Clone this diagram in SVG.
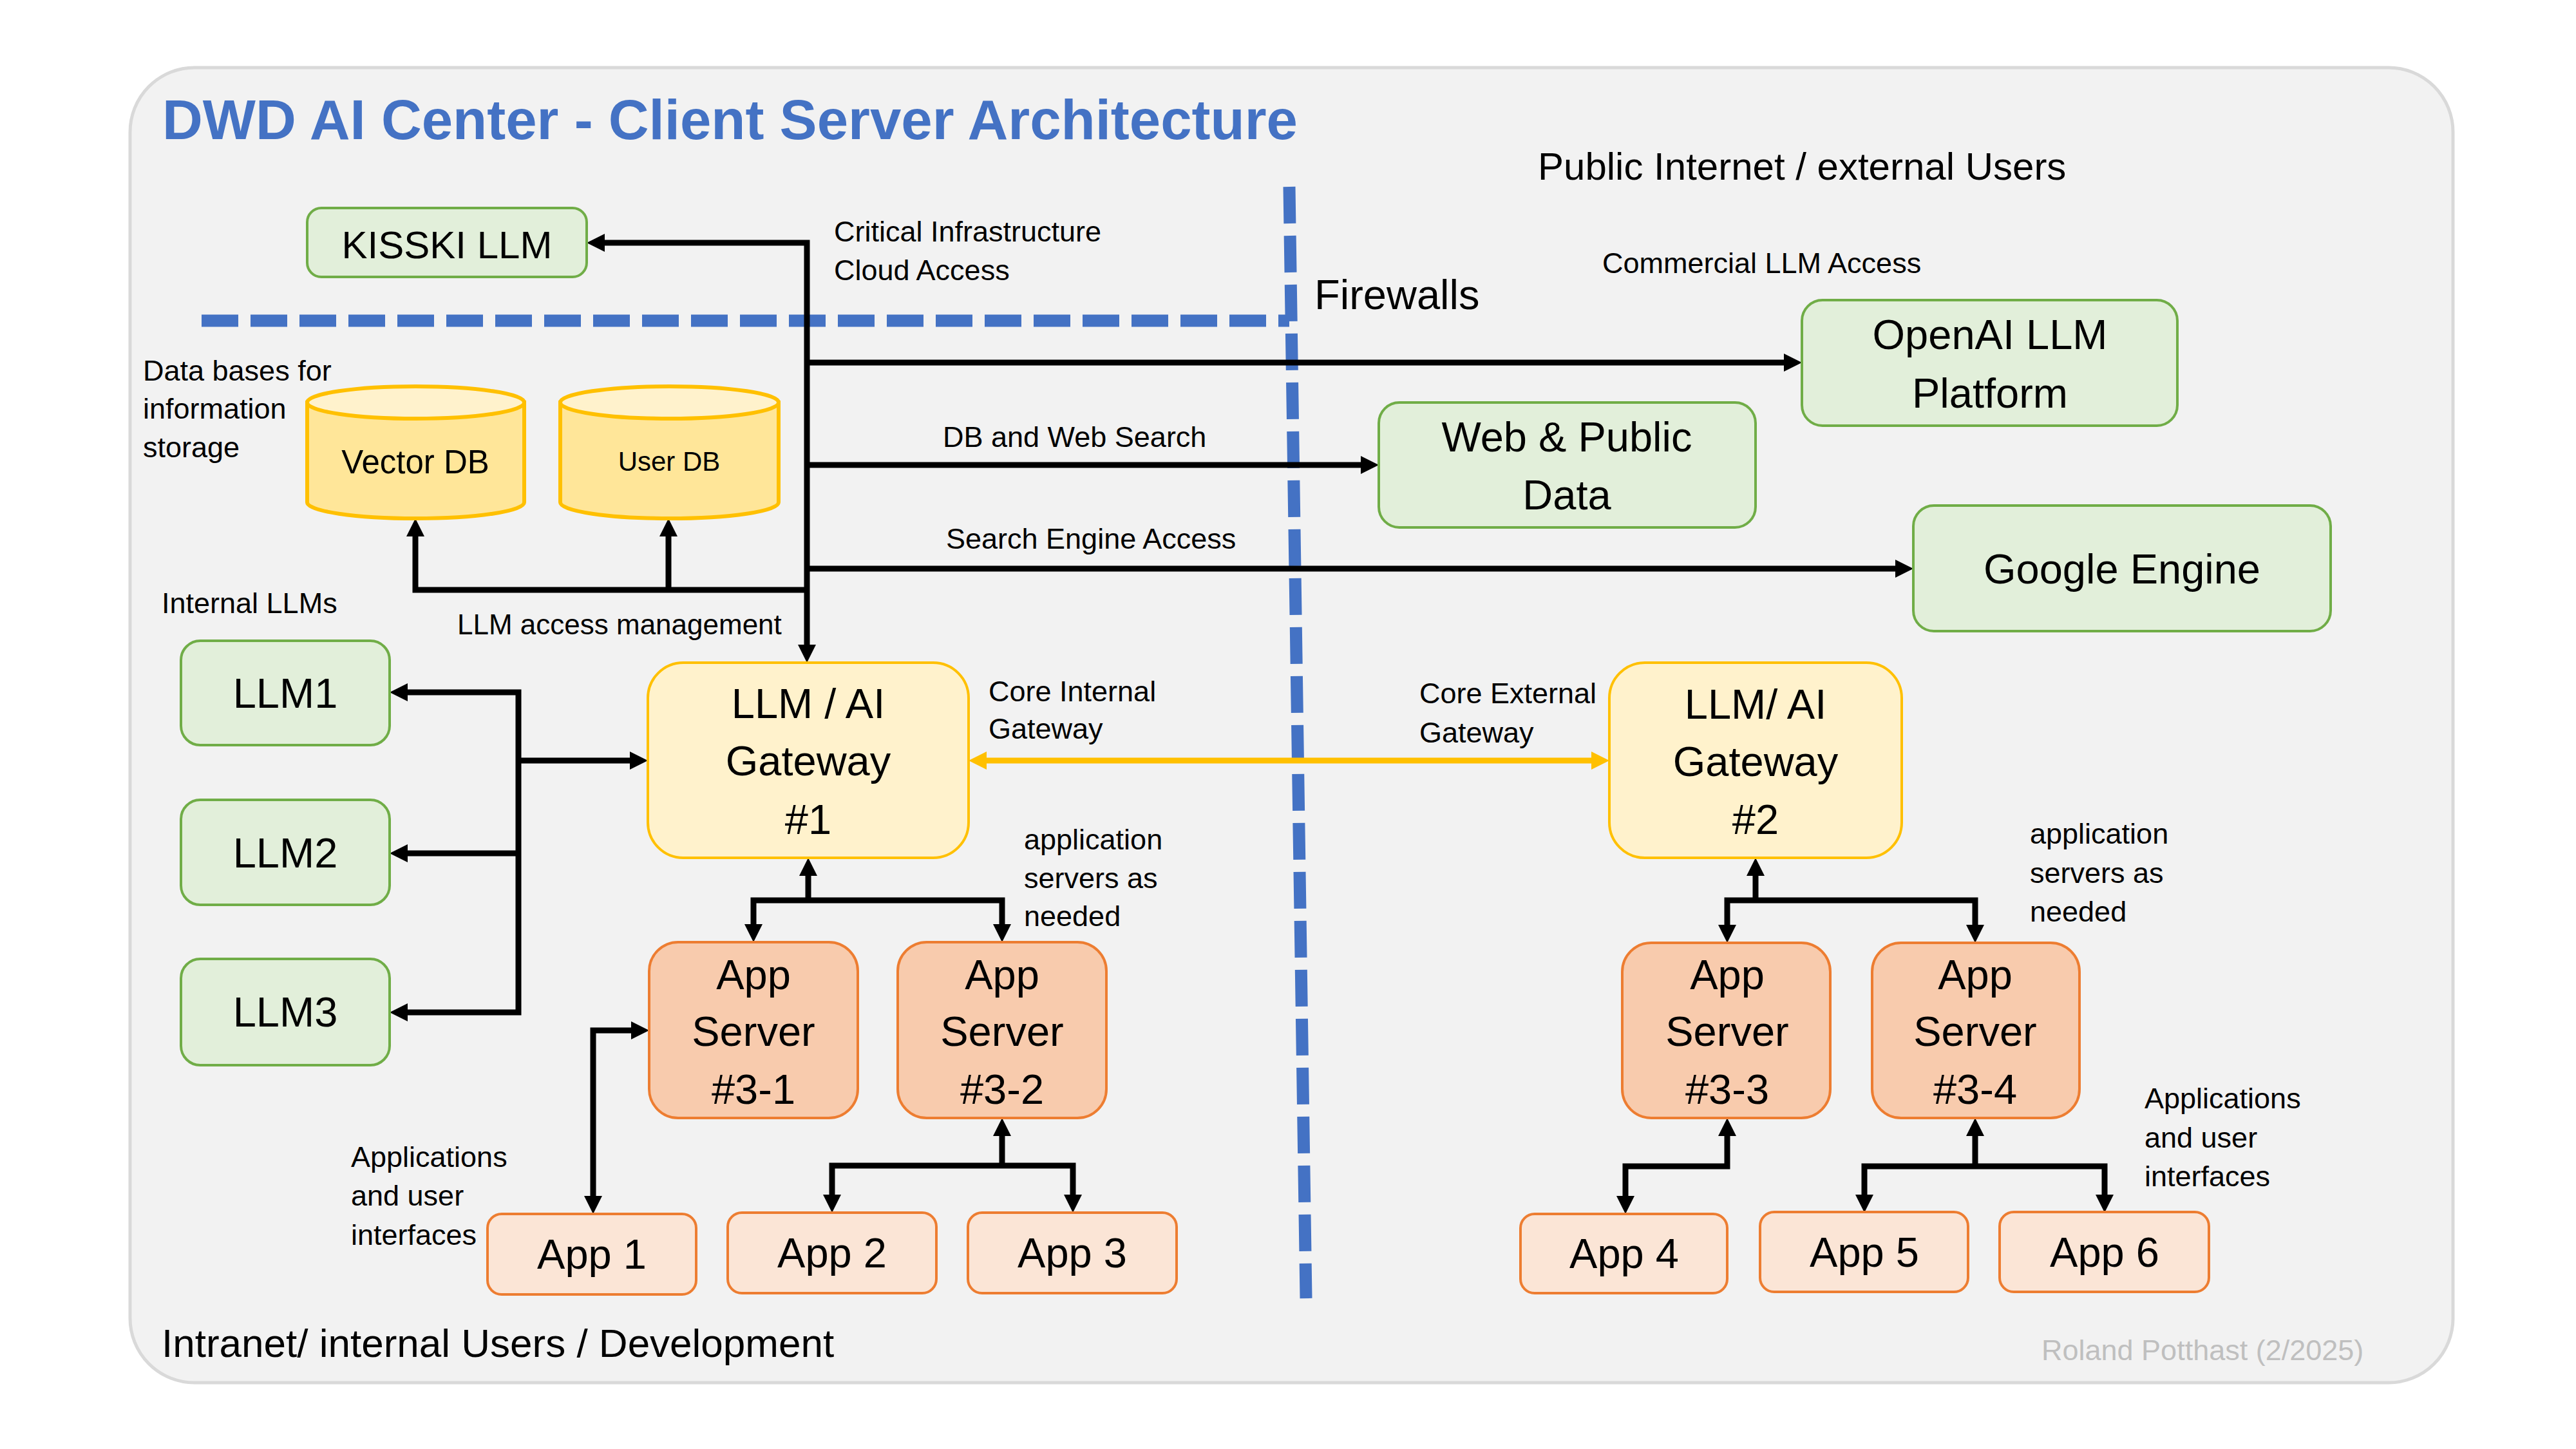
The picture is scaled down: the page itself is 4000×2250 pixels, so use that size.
<svg xmlns="http://www.w3.org/2000/svg" width="4000" height="2250" viewBox="0 0 4000 2250">
<defs>
<style>
text{font-family:"Liberation Sans",Arial,sans-serif;fill:#000}
.lbl{font-size:45px}
.node{font-size:65px;text-anchor:middle}
.green{fill:#e2efda;stroke:#70ad47;stroke-width:4}
.yellow{fill:#fff2cc;stroke:#ffc000;stroke-width:4}
.server{fill:#f8cbad;stroke:#ed7d31;stroke-width:4}
.app{fill:#fbe5d6;stroke:#ed7d31;stroke-width:4}
.cylbody{fill:#ffe699;stroke:#ffc000;stroke-width:6}
.cyltop{fill:#fff2cc;stroke:#ffc000;stroke-width:6}
.wire{fill:none;stroke:#000;stroke-width:9;stroke-linejoin:miter}
.gold{fill:none;stroke:#ffc000;stroke-width:9}
.fw{fill:none;stroke:#4472c4;stroke-width:19;stroke-dasharray:57 19}
</style>
<marker id="ah" markerUnits="userSpaceOnUse" markerWidth="30" markerHeight="30" refX="2" refY="14" orient="auto-start-reverse" viewBox="0 0 30 30">
<path d="M0,0 L28,14 L0,28 Z" fill="#000"/>
</marker>
<marker id="ahy" markerUnits="userSpaceOnUse" markerWidth="30" markerHeight="30" refX="2" refY="14" orient="auto-start-reverse" viewBox="0 0 30 30">
<path d="M0,0 L28,14 L0,28 Z" fill="#ffc000"/>
</marker>
</defs>

<rect x="202" y="105" width="3607" height="2042" rx="100" ry="100" fill="#f2f2f2" stroke="#d9d9d9" stroke-width="5"/>

<g id="firewalls">
<path class="fw" d="M313,498 L2002,498"/>
<path class="fw" d="M2002,290 L2028,2016"/>
</g>

<g id="texts">
<text x="252" y="216" style="font-size:87px;font-weight:bold;fill:#4472c4">DWD AI Center - Client Server Architecture</text>
<text x="2388" y="279" style="font-size:60px">Public Internet / external Users</text>
<text x="2041" y="480" style="font-size:65px">Firewalls</text>
<text x="2488" y="424" class="lbl">Commercial LLM Access</text>
<text x="1295" y="375" class="lbl">Critical Infrastructure</text>
<text x="1295" y="435" class="lbl">Cloud Access</text>
<text x="222" y="591" class="lbl">Data bases for</text>
<text x="222" y="650" class="lbl">information</text>
<text x="222" y="710" class="lbl">storage</text>
<text x="1464" y="694" class="lbl">DB and Web Search</text>
<text x="1469" y="852" class="lbl">Search Engine Access</text>
<text x="710" y="985" style="font-size:44px">LLM access management</text>
<text x="251" y="952" class="lbl">Internal LLMs</text>
<text x="1535" y="1089" class="lbl">Core Internal</text>
<text x="1535" y="1147" class="lbl">Gateway</text>
<text x="2204" y="1092" class="lbl">Core External</text>
<text x="2204" y="1153" class="lbl">Gateway</text>
<text x="1590" y="1319" class="lbl">application</text>
<text x="1590" y="1379" class="lbl">servers as</text>
<text x="1590" y="1438" class="lbl">needed</text>
<text x="3152" y="1310" class="lbl">application</text>
<text x="3152" y="1371" class="lbl">servers as</text>
<text x="3152" y="1431" class="lbl">needed</text>
<text x="545" y="1812" class="lbl">Applications</text>
<text x="545" y="1872" class="lbl">and user</text>
<text x="545" y="1933" class="lbl">interfaces</text>
<text x="3330" y="1721" class="lbl">Applications</text>
<text x="3330" y="1782" class="lbl">and user</text>
<text x="3330" y="1842" class="lbl">interfaces</text>
<text x="251" y="2107" style="font-size:62px">Intranet/ internal Users / Development</text>
<text x="3170" y="2112" class="lbl" style="fill:#bfbfbf">Roland Potthast (2/2025)</text>
</g>

<g id="connectors">
<path class="wire" marker-start="url(#ah)" marker-end="url(#ah)" d="M937,377 L1253,377 L1253,1003"/>
<path class="wire" marker-end="url(#ah)" d="M1253,563 L2772,563"/>
<path class="wire" marker-end="url(#ah)" d="M1253,722 L2115,722"/>
<path class="wire" marker-end="url(#ah)" d="M1253,883 L2945,883"/>
<path class="wire" marker-end="url(#ah)" d="M1253,916 L645,916 L645,831"/>
<path class="wire" marker-end="url(#ah)" d="M1038,916 L1038,831"/>
<path class="wire" marker-start="url(#ah)" marker-end="url(#ah)" d="M631,1075 L805,1075 L805,1572 L631,1572"/>
<path class="wire" marker-end="url(#ah)" d="M805,1325 L631,1325"/>
<path class="wire" marker-end="url(#ah)" d="M805,1181 L980,1181"/>
<path class="gold" marker-start="url(#ahy)" marker-end="url(#ahy)" d="M1530,1181 L2473,1181"/>
<path class="wire" marker-start="url(#ah)" marker-end="url(#ah)" d="M1170,1437 L1170,1398 L1556,1398 L1556,1437"/>
<path class="wire" marker-end="url(#ah)" d="M1255,1398 L1255,1358"/>
<path class="wire" marker-start="url(#ah)" marker-end="url(#ah)" d="M921,1859 L921,1600 L982,1600"/>
<path class="wire" marker-start="url(#ah)" marker-end="url(#ah)" d="M1292,1857 L1292,1810 L1666,1810 L1666,1857"/>
<path class="wire" marker-end="url(#ah)" d="M1556,1810 L1556,1762"/>
<path class="wire" marker-start="url(#ah)" marker-end="url(#ah)" d="M2682,1438 L2682,1398 L3067,1398 L3067,1438"/>
<path class="wire" marker-end="url(#ah)" d="M2726,1398 L2726,1358"/>
<path class="wire" marker-start="url(#ah)" marker-end="url(#ah)" d="M2682,1762 L2682,1811 L2524,1811 L2524,1859"/>
<path class="wire" marker-start="url(#ah)" marker-end="url(#ah)" d="M2895,1857 L2895,1811 L3268,1811 L3268,1857"/>
<path class="wire" marker-end="url(#ah)" d="M3067,1811 L3067,1762"/>
</g>

<g id="kisski">
<rect class="green" x="477" y="323" width="434" height="107" rx="22"/>
<text class="node" x="694" y="401" style="font-size:60px">KISSKI LLM</text>
</g>
<g id="openai">
<rect class="green" x="2798" y="466" width="583" height="195" rx="32"/>
<text class="node" x="3090" y="542">OpenAI LLM</text>
<text class="node" x="3090" y="633">Platform</text>
</g>
<g id="web">
<rect class="green" x="2141" y="625" width="585" height="194" rx="32"/>
<text class="node" x="2433" y="701">Web &amp; Public</text>
<text class="node" x="2433" y="791">Data</text>
</g>
<g id="google">
<rect class="green" x="2971" y="785" width="648" height="195" rx="32"/>
<text class="node" x="3295" y="906">Google Engine</text>
</g>
<g id="vectordb">
<path class="cylbody" d="M477,625 V780 A168.5,25 0 0 0 814,780 V625 Z"/>
<ellipse class="cyltop" cx="645.5" cy="625" rx="168.5" ry="25"/>
<text x="645" y="735" style="font-size:51px;text-anchor:middle">Vector DB</text>
</g>
<g id="userdb">
<path class="cylbody" d="M870,625 V780 A169.5,25 0 0 0 1209,780 V625 Z"/>
<ellipse class="cyltop" cx="1039.5" cy="625" rx="169.5" ry="25"/>
<text x="1039" y="731" style="font-size:42px;text-anchor:middle">User DB</text>
</g>
<g id="llm1">
<rect class="green" x="281" y="995" width="324" height="162" rx="30"/>
<text class="node" x="443" y="1099">LLM1</text>
</g>
<g id="llm2">
<rect class="green" x="281" y="1242" width="324" height="163" rx="30"/>
<text class="node" x="443" y="1347">LLM2</text>
</g>
<g id="llm3">
<rect class="green" x="281" y="1489" width="324" height="165" rx="30"/>
<text class="node" x="443" y="1594">LLM3</text>
</g>
<g id="gateway1">
<rect class="yellow" x="1006" y="1029" width="498" height="303" rx="55"/>
<text class="node" x="1255" y="1115">LLM / AI</text>
<text class="node" x="1255" y="1204">Gateway</text>
<text class="node" x="1255" y="1295">#1</text>
</g>
<g id="gateway2">
<rect class="yellow" x="2499" y="1029" width="454" height="303" rx="55"/>
<text class="node" x="2726" y="1116">LLM/ AI</text>
<text class="node" x="2726" y="1205">Gateway</text>
<text class="node" x="2726" y="1295">#2</text>
</g>
<g id="server31">
<rect class="server" x="1008" y="1463" width="324" height="273" rx="45"/>
<text class="node" x="1170" y="1536">App</text>
<text class="node" x="1170" y="1624">Server</text>
<text class="node" x="1170" y="1714">#3-1</text>
</g>
<g id="server32">
<rect class="server" x="1394" y="1463" width="324" height="273" rx="45"/>
<text class="node" x="1556" y="1536">App</text>
<text class="node" x="1556" y="1624">Server</text>
<text class="node" x="1556" y="1714">#3-2</text>
</g>
<g id="server33">
<rect class="server" x="2519" y="1464" width="323" height="272" rx="45"/>
<text class="node" x="2682" y="1536">App</text>
<text class="node" x="2682" y="1624">Server</text>
<text class="node" x="2682" y="1714">#3-3</text>
</g>
<g id="server34">
<rect class="server" x="2907" y="1464" width="322" height="272" rx="45"/>
<text class="node" x="3067" y="1536">App</text>
<text class="node" x="3067" y="1624">Server</text>
<text class="node" x="3067" y="1714">#3-4</text>
</g>
<g id="app1">
<rect class="app" x="757" y="1885" width="324" height="125" rx="22"/>
<text class="node" x="919" y="1970">App 1</text>
</g>
<g id="app2">
<rect class="app" x="1130" y="1883" width="324" height="125" rx="22"/>
<text class="node" x="1292" y="1968">App 2</text>
</g>
<g id="app3">
<rect class="app" x="1503" y="1883" width="324" height="125" rx="22"/>
<text class="node" x="1665" y="1968">App 3</text>
</g>
<g id="app4">
<rect class="app" x="2361" y="1885" width="321" height="123" rx="22"/>
<text class="node" x="2522" y="1969">App 4</text>
</g>
<g id="app5">
<rect class="app" x="2733" y="1882" width="323" height="124" rx="22"/>
<text class="node" x="2895" y="1967">App 5</text>
</g>
<g id="app6">
<rect class="app" x="3105" y="1882" width="325" height="124" rx="22"/>
<text class="node" x="3268" y="1967">App 6</text>
</g>
</svg>
